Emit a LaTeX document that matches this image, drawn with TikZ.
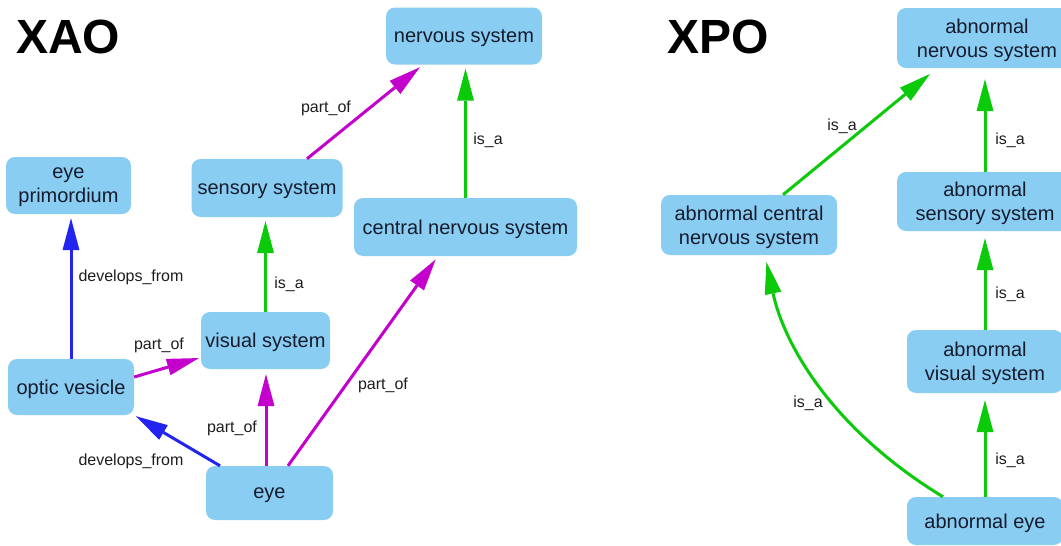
\documentclass[tikz,border=0pt]{standalone}
\usepackage{fontspec}
\setmainfont{Liberation Sans}
\usetikzlibrary{arrows.meta,calc}
\definecolor{boxblue}{RGB}{137,205,242}
\definecolor{boxtext}{RGB}{22,28,45}
\definecolor{mag}{RGB}{196,0,204}
\definecolor{grn}{RGB}{10,202,10}
\definecolor{blu}{RGB}{36,36,240}
\definecolor{lbltext}{RGB}{30,30,30}
\tikzset{
  term/.style={fill=boxblue, rounded corners=9pt, text=boxtext, align=center,
    inner sep=0pt, text depth=0pt, font=\fontsize{20}{24}\selectfont},
  rel/.style={line width=3pt, -{Triangle[length=32pt,width=17pt,line width=0pt]}, shorten >=4pt},
  partof/.style={rel, draw=mag, color=mag},
  isa/.style={rel, draw=grn, color=grn},
  devfrom/.style={rel, draw=blu, color=blu},
  lbl/.style={font=\fontsize{16}{18}\selectfont, text=lbltext, inner sep=0pt},
  ttl/.style={font=\fontsize{48}{50}\selectfont\bfseries, anchor=base west, inner sep=0pt}
}
\begin{document}
\begin{tikzpicture}[x=1pt,y=-1pt]
\useasboundingbox (0,0) rectangle (1061,546);
\fill[white] (0,0) rectangle (1061,546);
\clip (0,0) rectangle (1061,546);

% titles
\node[ttl] (xao) at (16,53) {XAO};
\node[ttl] (xpo) at (667,53) {XPO};

% XAO terms
\node[term, minimum width=125pt, minimum height=57pt] (ep)  at (68.5,185.5) {eye\\primordium};
\node[term, minimum width=151pt, minimum height=58pt] (ss)  at (267,188) {sensory system};
\node[term, minimum width=156pt, minimum height=57pt] (ns)  at (464,36) {nervous system};
\node[term, minimum width=223pt, minimum height=58pt] (cns) at (465.5,227) {central nervous system};
\node[term, minimum width=129pt, minimum height=57pt] (vs)  at (265.5,340.5) {visual system};
\node[term, minimum width=126pt, minimum height=56pt] (ov)  at (71,387) {optic vesicle};
\node[term, minimum width=127pt, minimum height=54pt] (eye) at (269.5,493) {eye};

% XPO terms
\node[term, minimum width=180pt, minimum height=60pt] (ans)  at (987,38) {abnormal\\nervous system};
\node[term, minimum width=176pt, minimum height=59pt] (ass)  at (985,201.5) {abnormal\\sensory system};
\node[term, minimum width=176pt, minimum height=60pt] (acns) at (749,225) {abnormal central\\nervous system};
\node[term, minimum width=156pt, minimum height=63pt] (avs)  at (985,361.5) {abnormal\\visual system};
\node[term, minimum width=156pt, minimum height=48pt] (ae)   at (985,521) {abnormal eye};

% XAO connectors
\draw[devfrom] (ov.north) -- (ov.north |- ep.south);
\draw[isa] (vs.north) -- (vs.north |- ss.south);
\draw[partof] ($(ss.north)+(40,0)$) -- ($(ns.south)+(-41,0)$);
\draw[isa] (cns.north) -- (cns.north |- ns.south);
\draw[partof, shorten >=2pt] ($(ov.east)+(0,-10)$) -- ($(vs.west)+(0,17)$);
\draw[devfrom, shorten >=2pt] ($(eye.north)+(-49.5,0)$) -- (ov.south east);
\draw[partof, shorten >=5pt] ($(eye.north)+(-3.5,0)$) -- ($(vs.south)+(0.5,0)$);
\draw[partof] ($(eye.north)+(18.5,0)$) -- ($(cns.south)+(-27.5,0)$);

% XPO connectors
\draw[isa, shorten >=9pt] ($(acns.north)+(34,0)$) -- ($(ans.south)+(-50,0)$);
\draw[isa, shorten >=11pt] (ass.north) -- (ass.north |- ans.south);
\draw[isa, shorten >=7pt] (avs.north) -- (avs.north |- ass.south);
\draw[isa, shorten >=7pt] (ae.north) -- (ae.north |- avs.south);
\draw[isa, shorten >=7pt] ($(ae.north)+(-42,0)$) .. controls +(-115,-70) and +(18,85) .. ($(acns.south)+(16,0)$);

% labels
\node[lbl] (l1)  at (131,277) {develops\_from};
\node[lbl] (l2)  at (289,284) {is\_a};
\node[lbl] (l3)  at (326,108) {part\_of};
\node[lbl] (l4)  at (488,140) {is\_a};
\node[lbl] (l5)  at (159,345) {part\_of};
\node[lbl] (l6)  at (232,428) {part\_of};
\node[lbl] (l7)  at (131,461) {develops\_from};
\node[lbl] (l8)  at (383,385) {part\_of};
\node[lbl] (l9)  at (842,126) {is\_a};
\node[lbl] (l10) at (1010,140) {is\_a};
\node[lbl] (l11) at (1010,294) {is\_a};
\node[lbl] (l12) at (1010,460) {is\_a};
\node[lbl] (l13) at (808,403) {is\_a};
\end{tikzpicture}
\end{document}
